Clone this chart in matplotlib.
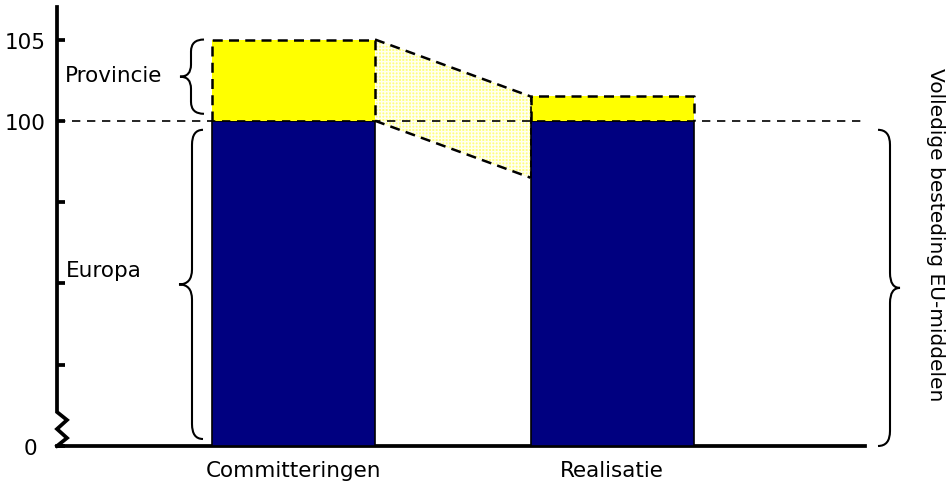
import numpy as np
import matplotlib
matplotlib.use("Agg")
import matplotlib.pyplot as plt
from matplotlib.path import Path
from matplotlib.patches import PathPatch
from matplotlib.transforms import IdentityTransform, blended_transform_factory

plt.rcParams['font.family'] = 'DejaVu Sans'

# data
categories = ['Committeringen', 'Realisatie']
europa = [100, 100]
totaal = [105, 101.5]
shift_low = 96.5          # lower edge of the hatched band at Realisatie
ytick_vals = [0, 85, 90, 95, 100, 105]
ytick_labels = ['0', '', '', '', '100', '105']


# broken y axis: 0..85 squeezed into a small band at the bottom
def fwd(v):
    v = np.asarray(v, dtype=float)
    return np.where(v >= 85, v, 80 + v * 5 / 85)


def inv(u):
    u = np.asarray(u, dtype=float)
    return np.where(u >= 85, u, (u - 80) * 85 / 5)


def brace(fig, ax, x, y0, y1, side, gap0=0, gap1=0, aw=11, tw=13, r=15):
    """Curly brace in pixel space. side=+1 -> '{', side=-1 -> '}'."""
    px = ax.transAxes.transform((x, 0))[0]
    py0 = ax.transData.transform((0, y0))[1] + gap0
    py1 = ax.transData.transform((0, y1))[1] - gap1
    pm = (py0 + py1) / 2
    s = side
    verts = [(px + s * aw, py1), (px, py1), (px, py1 - r),
             (px, pm + r),
             (px, pm), (px - s * tw, pm),
             (px, pm), (px, pm - r),
             (px, py0 + r),
             (px, py0), (px + s * aw, py0)]
    codes = [Path.MOVETO, Path.CURVE3, Path.CURVE3,
             Path.LINETO,
             Path.CURVE3, Path.CURVE3,
             Path.CURVE3, Path.CURVE3,
             Path.LINETO,
             Path.CURVE3, Path.CURVE3]
    fig.add_artist(PathPatch(Path(verts, codes), fill=False, lw=1.5,
                             edgecolor='black', transform=IdentityTransform()))


fig = plt.figure(figsize=(9.48, 4.85), dpi=100)
ax = fig.add_axes([57 / 948, 1 - 447 / 485, 808 / 948, 439 / 485])
ax.set_yscale('function', functions=(fwd, inv))

x = np.arange(len(categories))
w = 0.512
provincie = [t - e for t, e in zip(totaal, europa)]

navy = ax.bar(x, europa, width=w, color='#000080', edgecolor='black',
              linewidth=1.2, zorder=3)
yel = ax.bar(x, provincie, width=w, bottom=europa, color='#ffff00',
             edgecolor='none', zorder=3)

dash = (0, (4, 2.5))
for p in yel:
    l, b = p.get_x(), p.get_y()
    r_, t = l + p.get_width(), b + p.get_height()
    ax.plot([l, l, r_, r_], [b, t, t, b], color='black', lw=1.8,
            linestyle=dash, zorder=4)

# hatched band between the two bars
x0r = yel[0].get_x() + yel[0].get_width()
x1l = yel[1].get_x()
ax.fill_between([x0r, x1l], [europa[0], shift_low], [totaal[0], totaal[1]],
                facecolor='#ffff80', hatch='+++++', edgecolor='#fffff0',
                linewidth=0, zorder=2)
ax.plot([x0r, x1l], [totaal[0], totaal[1]], color='black', lw=1.8,
        linestyle=dash, zorder=4)
ax.plot([x0r, x1l], [europa[0], shift_low], color='black', lw=1.8,
        linestyle=dash, zorder=4)
ax.plot([x1l, x1l], [shift_low, totaal[1]], color='black', lw=1.2,
        linestyle=dash, zorder=4)

ax.axhline(100, color='black', lw=1.2, linestyle=(0, (5, 4)), zorder=5)

ax.set_xlim(-0.7425, 1.794)
ax.set_ylim(0, 107)

# axes styling
for s in ['top', 'right', 'left']:
    ax.spines[s].set_visible(False)
ax.spines['bottom'].set_linewidth(2.7)

# left axis with zigzag break
H = 439.0
zx = 10 / 808
ax.plot([0, 0, zx, 0, zx, 0], [1, 34 / H, 26 / H, 17 / H, 8 / H, 0],
        transform=ax.transAxes, color='black', lw=2.7, clip_on=False,
        solid_joinstyle='miter', zorder=6)

ax.set_yticks(ytick_vals, ytick_labels)
ax.tick_params(axis='y', direction='in', length=6, width=2.7,
               labelsize=15.5, pad=8.5)
ax.yaxis.get_major_ticks()[0].set_pad(14)
ax.set_xticks(x, categories)
ax.tick_params(axis='x', length=0, pad=10, labelsize=15.5)

# annotations
tr = blended_transform_factory(ax.transAxes, ax.transData)
ax.text(0.01, 102.8, 'Provincie', transform=tr, fontsize=15.5,
        va='center', ha='left')
ax.text(0.011, 90.8, 'Europa', transform=tr, fontsize=15.5,
        va='center', ha='left')
fig.text(935 / 948, 1 - 235 / 485, 'Volledige besteding EU-middelen',
         rotation=-90, fontsize=14.5, ha='center', va='center')

brace(fig, ax, (191 - 57) / 808, 100, 105, +1, gap0=7, gap1=0, aw=13, tw=11, r=12)
brace(fig, ax, (192 - 57) / 808, 0, 100, +1, gap0=7, gap1=9)
brace(fig, ax, (890 - 57) / 808, 0, 100, -1, gap0=0, gap1=9, aw=12, tw=10)

fig.savefig('out.png', dpi=100)
